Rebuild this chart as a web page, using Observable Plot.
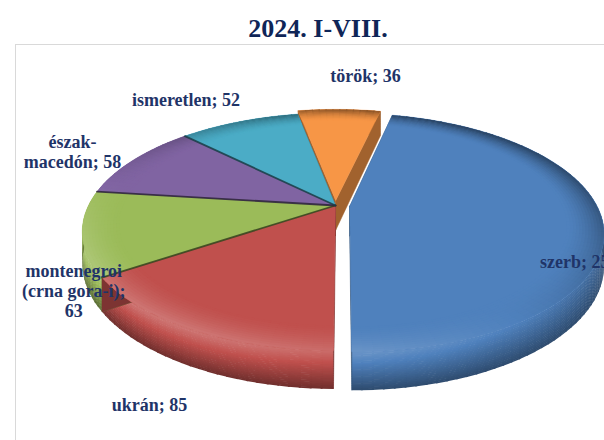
<!DOCTYPE html>
<html><head><meta charset="utf-8">
<script src="https://cdn.jsdelivr.net/npm/d3@7"></script>
<script src="https://cdn.jsdelivr.net/npm/@observablehq/plot@0.6"></script>
<style>
html,body{margin:0;padding:0;background:#fff;overflow:hidden;width:604px;height:440px}
#title{height:44px;box-sizing:border-box;padding-top:16px;padding-left:32px;text-align:center;font:bold 26px "Liberation Serif","Times New Roman",serif;line-height:1;color:#0f2557}
#wrap{position:relative;width:604px;height:396px;overflow:hidden}
#frame{position:absolute;left:15px;top:0;width:700px;height:500px;border:1.5px solid #d9d9d9;box-sizing:border-box}
#chart{position:absolute;left:0;top:0}
#chart svg text{font-family:"Liberation Serif","Times New Roman",serif !important}
</style></head><body>
<div id="title">2024. I-VIII.</div>
<div id="wrap"><div id="frame"></div><div id="chart"></div></div>
<script>
// ---- data ----
const categories = ["szerb", "ukrán", "montenegroi\n(crna gora-i)", "észak-\nmacedón", "ismeretlen", "török"];
const values = [256, 85, 63, 58, 52, 36];
// ---- styles / layout ----
const colors = ["#4f81bd", "#c0504d", "#9bbb59", "#8064a2", "#4bacc6", "#f79646"];
const explode = [0.058, 0, 0, 0, 0, 0.045];
const labelShift = [20, -5, -22, -2, -5, 5];      // degrees from slice mid-angle
const labelRadius = [0.995, 1.38, 1.115, 1.305, 1.409, 1.546];
const W = 604, H = 396;
const CX = 335, CY = 161, R = 247, TILT = 0.458, PERSP = 0.22, DEPTH = 30, START = 12.8;
const rad = Math.PI / 180;
const FONT = "Liberation Serif, Times New Roman, serif";

function proj(u, v, h = 0) {
  const w = 1 / (1 - PERSP * v);
  return {x: CX + R * u * w, y: CY + (R * TILT * v + h) * w};
}
function shade(base, k) {
  return k >= 0 ? d3.interpolateRgb(base, "#ffffff")(k) : d3.interpolateRgb(base, "#000000")(-k);
}
const light = a => 0.5 + 0.5 * Math.cos(a - 215 * rad);
const rimK = a => { const L = light(a); return 0.22 * L - 0.5 * (1 - L); };

const pie = d3.pie().sort(null).value(d => d)
  .startAngle(START * rad).endAngle(START * rad + 2 * Math.PI)(values);

const slices = pie.map((p, i) => {
  const m = (p.startAngle + p.endAngle) / 2, e = explode[i];
  return {i, m, a0: p.startAngle, a1: p.endAngle, eu: e * Math.sin(m), ev: -e * Math.cos(m)};
});
const P = (s, a, r, h) => proj(s.eu + r * Math.sin(a), s.ev - r * Math.cos(a), h);

const sidePts = [], facePts = [], topPts = [], bevelPts = [], edgePts = [];
let id = 0;
function poly(arr, pts, c) { const k = id++; for (const p of [...pts, pts[0]]) arr.push({x: p.x, y: p.y, id: k, c}); }

const order = slices.slice().sort((a, b) => Math.cos(b.m) - Math.cos(a.m));
const SIDE_BANDS = 22, TOP_BANDS = 12, R_IN = 0.86, OV = 0.35 * rad;
for (const s of order) {
  const n = Math.max(6, Math.ceil((s.a1 - s.a0) / (2 * rad)));
  for (let j = 0; j < SIDE_BANDS; j++) {
    const h0 = DEPTH * j / SIDE_BANDS, h1 = Math.min(DEPTH, DEPTH * (j + 1) / SIDE_BANDS + 0.5);
    const q = Math.pow((j + 0.5) / SIDE_BANDS, 1.1);
    for (let k = 0; k < n; k++) {
      const a = s.a0 + (s.a1 - s.a0) * k / n, b = Math.min(s.a1, s.a0 + (s.a1 - s.a0) * (k + 1) / n + OV), am = (a + b) / 2;
      const k0 = rimK(am), k1 = -0.42;
      poly(sidePts, [P(s, a, 1, h0), P(s, b, 1, h0), P(s, b, 1, h1), P(s, a, 1, h1)], shade(colors[s.i], k0 + (k1 - k0) * q));
    }
  }
  const dk = shade(colors[s.i], -0.35);
  for (const a of [s.a0, s.a1]) {
    poly(facePts, [P(s, a, 0, 0), P(s, a, 1, 0), P(s, a, 1, DEPTH), P(s, a, 0, DEPTH)], dk);
  }
}
for (const s of slices) {
  const n = Math.max(6, Math.ceil((s.a1 - s.a0) / rad));
  const arc = [];
  for (let k = 0; k <= n; k++) arc.push(P(s, s.a0 + (s.a1 - s.a0) * k / n, 1, 0));
  poly(topPts, [P(s, 0, 0, 0), ...arc], colors[s.i]);
  const n2 = Math.max(6, Math.ceil((s.a1 - s.a0) / (2 * rad)));
  for (let j = 0; j < TOP_BANDS; j++) {
    const r0 = R_IN + (1 - R_IN) * j / TOP_BANDS, r1 = Math.min(1, R_IN + (1 - R_IN) * (j + 1) / TOP_BANDS + 0.004);
    const t = Math.pow((j + 0.5) / TOP_BANDS, 1.5);
    for (let k = 0; k < n2; k++) {
      const a = s.a0 + (s.a1 - s.a0) * k / n2, b = Math.min(s.a1, s.a0 + (s.a1 - s.a0) * (k + 1) / n2 + OV), am = (a + b) / 2;
      poly(bevelPts, [P(s, a, r0, 0), P(s, b, r0, 0), P(s, b, r1, 0), P(s, a, r1, 0)], shade(colors[s.i], rimK(am) * t));
    }
  }
}
slices.forEach((s, i) => {
  const prev = slices[(i + slices.length - 1) % slices.length];
  if (explode[i] === 0 && explode[prev.i] === 0) {
    const k = id++, c = shade(colors[i], -0.65);
    edgePts.push({...P(s, s.a0, 0, 0), id: k, c}, {...P(s, s.a0, 1, 0), id: k, c});
  }
});

const labels = pie.map((p, i) => {
  const a = (p.startAngle + p.endAngle) / 2 + labelShift[i] * rad, r = labelRadius[i];
  const pt = proj(r * Math.sin(a), -r * Math.cos(a));
  const sep = categories[i].includes("(") ? ";\n" : "; ";
  return {x: pt.x, y: pt.y, text: categories[i] + sep + values[i]};
});

const shape = (data, sw) => Plot.line(data, {x: "x", y: "y", z: "id", fill: "c", stroke: sw ? "c" : "none", strokeWidth: sw});
const chart = Plot.plot({
  width: W, height: H, margin: 0,
  x: {domain: [0, W], range: [0, W], axis: null},
  y: {domain: [0, H], range: [0, H], axis: null},
  color: {type: "identity"},
  style: {background: "transparent", overflow: "hidden", fontFamily: FONT},
  marks: [
    shape(sidePts, 0),
    shape(facePts, 0.5),
    shape(topPts, 0.4),
    shape(bevelPts, 0),
    Plot.line(edgePts, {x: "x", y: "y", z: "id", stroke: "c", strokeWidth: 1.8, strokeOpacity: 0.85}),
    Plot.text(labels, {x: "x", y: "y", text: "text", fontSize: 18, fontWeight: "bold",
      fontFamily: FONT, fill: "#1f3468", lineHeight: 1.12})
  ]
});
document.getElementById("chart").appendChild(chart);
</script>
</body></html>
